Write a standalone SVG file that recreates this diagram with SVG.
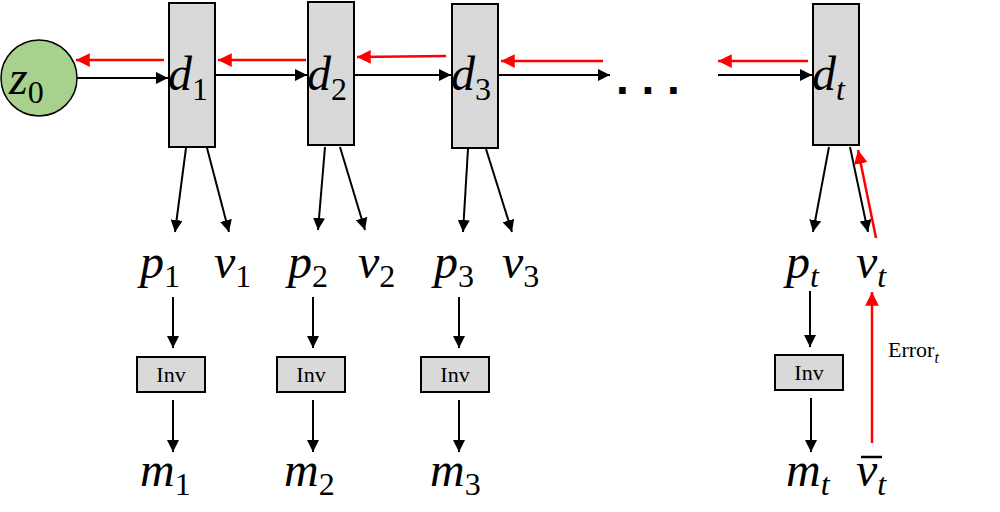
<svg xmlns="http://www.w3.org/2000/svg" width="1000" height="512" viewBox="0 0 1000 512">
<defs>
<marker id="ab" viewBox="0 0 10 10" refX="10" refY="5" markerWidth="6" markerHeight="6" orient="auto"><path d="M0,0L10,5L0,10z" fill="#000"/></marker>
<marker id="ar" viewBox="0 0 10 10" refX="10" refY="5" markerWidth="5.5" markerHeight="5.5" orient="auto"><path d="M0,0L10,5L0,10z" fill="#f00"/></marker>
<style>
.box{fill:#d9d9d9;stroke:#000;stroke-width:2}
.m{font-family:"Liberation Serif",serif;font-style:italic;font-size:48px;fill:#000}
.s{font-size:32px;font-style:normal}
.st{font-size:32px}
.inv{font-family:"Liberation Serif",serif;font-size:22px;text-anchor:middle}
.k{stroke:#000;stroke-width:2;fill:none;marker-end:url(#ab)}
.r{stroke:#f00;stroke-width:2.5;fill:none;marker-end:url(#ar)}
</style>
</defs>
<g id="z0"><circle cx="39" cy="78" r="38" fill="#a9d18e" stroke="#000" stroke-width="1.5"/><text x="9" y="94" class="m">z<tspan class="s" dy="9">0</tspan></text></g>
<g id="d1"><rect class="box" x="169" y="3" width="46" height="144"/><text x="168" y="90" class="m">d<tspan class="s" dy="10">1</tspan></text></g>
<g id="d2"><rect class="box" x="308" y="2" width="46" height="143"/><text x="307" y="90" class="m">d<tspan class="s" dy="10">2</tspan></text></g>
<g id="d3"><rect class="box" x="452" y="4" width="46" height="144"/><text x="451" y="90" class="m">d<tspan class="s" dy="10">3</tspan></text></g>
<g id="dt"><rect class="box" x="813" y="4" width="46" height="141"/><text x="812" y="90" class="m">d<tspan class="st" dy="10">t</tspan></text></g>
<g id="dots"><text x="616" y="94" font-family="Liberation Sans,sans-serif" font-size="46" font-weight="bold">. . .</text></g>
<g id="labels">
<text x="140" y="278" class="m">p<tspan class="s" dy="9">1</tspan></text><text x="214" y="278" class="m">v<tspan class="s" dy="9">1</tspan></text>
<text x="288" y="278" class="m">p<tspan class="s" dy="9">2</tspan></text><text x="358" y="278" class="m">v<tspan class="s" dy="9">2</tspan></text>
<text x="434" y="278" class="m">p<tspan class="s" dy="9">3</tspan></text><text x="502" y="278" class="m">v<tspan class="s" dy="9">3</tspan></text>
<text x="786" y="278" class="m">p<tspan class="st" dy="9">t</tspan></text><text x="856" y="278" class="m">v<tspan class="st" dy="9">t</tspan></text>
<text x="140" y="486" class="m">m<tspan class="s" dy="9">1</tspan></text>
<text x="284" y="486" class="m">m<tspan class="s" dy="9">2</tspan></text>
<text x="430" y="486" class="m">m<tspan class="s" dy="9">3</tspan></text>
<text x="786" y="486" class="m">m<tspan class="st" dy="9">t</tspan></text>
<text x="856" y="486" class="m">v<tspan class="st" dy="9">t</tspan></text>
<line x1="861" y1="457" x2="882" y2="457" stroke="#000" stroke-width="2.5"/>
<text x="888" y="357" font-family="Liberation Serif,serif" font-size="22">Error<tspan font-style="italic" font-size="16" dy="6">t</tspan></text>
</g>
<g id="inv1"><rect class="box" x="137" y="357" width="68" height="35"/><text x="171" y="382" class="inv">Inv</text></g>
<g id="inv2"><rect class="box" x="277" y="357" width="68" height="35"/><text x="311" y="382" class="inv">Inv</text></g>
<g id="inv3"><rect class="box" x="421" y="357" width="68" height="35"/><text x="455" y="382" class="inv">Inv</text></g>
<g id="invt"><rect class="box" x="775" y="355" width="68" height="35"/><text x="809" y="380" class="inv">Inv</text></g>
<g id="connectors">
<line class="k" x1="77" y1="78" x2="168" y2="78"/>
<line class="k" x1="215" y1="75" x2="307" y2="75"/>
<line class="k" x1="355" y1="75" x2="451" y2="75"/>
<line class="k" x1="498" y1="75" x2="610" y2="75"/>
<line class="k" x1="718" y1="75" x2="812" y2="75"/>
<line class="r" x1="164" y1="60" x2="76" y2="60"/>
<line class="r" x1="306" y1="60" x2="218" y2="60"/>
<line class="r" x1="446" y1="56" x2="357" y2="57"/>
<line class="r" x1="603" y1="61" x2="501" y2="61"/>
<line class="r" x1="808" y1="61" x2="718" y2="61"/>
<line class="k" x1="186" y1="148" x2="175" y2="232"/><line class="k" x1="207" y1="148" x2="229" y2="232"/>
<line class="k" x1="325" y1="147" x2="318" y2="230"/><line class="k" x1="340" y1="147" x2="365" y2="230"/>
<line class="k" x1="468" y1="149" x2="463" y2="232"/><line class="k" x1="486" y1="149" x2="512" y2="232"/>
<line class="k" x1="829" y1="147" x2="813" y2="232"/><line class="k" x1="850" y1="147" x2="868" y2="232"/>
<line class="r" x1="876" y1="238" x2="858" y2="150"/>
<line class="r" x1="872" y1="443" x2="872" y2="292"/>
<line class="k" x1="173" y1="297" x2="173" y2="348"/><line class="k" x1="173" y1="400" x2="173" y2="452"/>
<line class="k" x1="313" y1="297" x2="313" y2="348"/><line class="k" x1="313" y1="400" x2="313" y2="452"/>
<line class="k" x1="459" y1="297" x2="459" y2="348"/><line class="k" x1="459" y1="400" x2="459" y2="452"/>
<line class="k" x1="810" y1="291" x2="810" y2="347"/><line class="k" x1="811" y1="398" x2="811" y2="452"/>
</g>
</svg>
